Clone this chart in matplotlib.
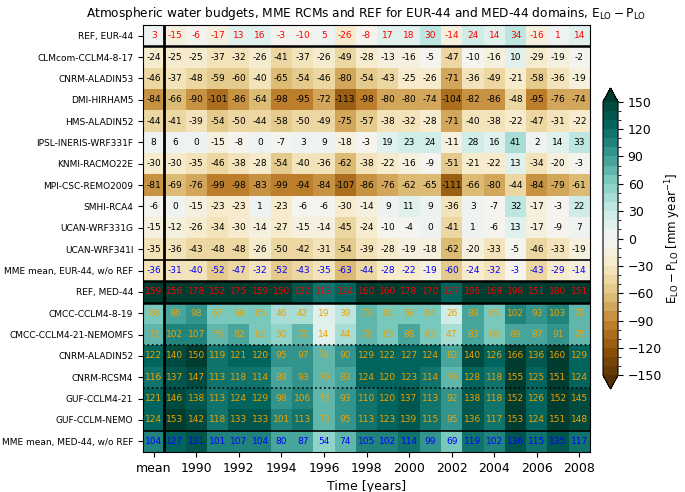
import numpy as np
import matplotlib
matplotlib.use('Agg')
import matplotlib.pyplot as plt
from matplotlib.colors import BoundaryNorm

# columns: mean + 1989..2008
years = list(range(1989, 2009))
col_labels = ['mean'] + [str(y) for y in years]

row_names = [
    'REF, EUR-44', 'CLMcom-CCLM4-8-17', 'CNRM-ALADIN53', 'DMI-HIRHAM5',
    'HMS-ALADIN52', 'IPSL-INERIS-WRF331F', 'KNMI-RACMO22E', 'MPI-CSC-REMO2009',
    'SMHI-RCA4', 'UCAN-WRF331G', 'UCAN-WRF341I', 'MME mean, EUR-44, w/o REF',
    'REF, MED-44', 'CMCC-CCLM4-8-19', 'CMCC-CCLM4-21-NEMOMFS', 'CNRM-ALADIN52',
    'CNRM-RCSM4', 'GUF-CCLM4-21', 'GUF-CCLM-NEMO', 'MME mean, MED-44, w/o REF',
]

# first value = mean, then one value per year
ref_eur = [3, -15, -6, -17, 13, 16, -3, -10, 5, -26, -8, 17, 18, 30, -14, 24, 14, 34, -16, 1, 14]
clmcom = [-24, -25, -25, -37, -32, -26, -41, -37, -26, -49, -28, -13, -16, -5, -47, -10, -16, 10, -29, -19, -2]
cnrm53 = [-46, -37, -48, -59, -60, -40, -65, -54, -46, -80, -54, -43, -25, -26, -71, -36, -49, -21, -58, -36, -19]
dmi = [-84, -66, -90, -101, -86, -64, -98, -95, -72, -113, -98, -80, -80, -74, -104, -82, -86, -48, -95, -76, -74]
hms = [-44, -41, -39, -54, -50, -44, -58, -50, -49, -75, -57, -38, -32, -28, -71, -40, -38, -22, -47, -31, -22]
ipsl = [8, 6, 0, -15, -8, 0, -7, 3, 9, -18, -3, 19, 23, 24, -11, 28, 16, 41, 2, 14, 33]
knmi = [-30, -30, -35, -46, -38, -28, -54, -40, -36, -62, -38, -22, -16, -9, -51, -21, -22, 13, -34, -20, -3]
mpi = [-81, -69, -76, -99, -98, -83, -99, -94, -84, -107, -86, -76, -62, -65, -111, -66, -80, -44, -84, -79, -61]
smhi = [-6, 0, -15, -23, -23, 1, -23, -6, -6, -30, -14, 9, 11, 9, -36, 3, -7, 32, -17, -3, 22]
ucan331 = [-15, -12, -26, -34, -30, -14, -27, -15, -14, -45, -24, -10, -4, 0, -41, 1, -6, 13, -17, -9, 7]
ucan341 = [-35, -36, -43, -48, -48, -26, -50, -42, -31, -54, -39, -28, -19, -18, -62, -20, -33, -5, -46, -33, -19]
mme_eur = [-36, -31, -40, -52, -47, -32, -52, -43, -35, -63, -44, -28, -22, -19, -60, -24, -32, -3, -43, -29, -14]
ref_med = [159, 156, 178, 152, 175, 159, 150, 132, 113, 124, 160, 160, 178, 170, 127, 196, 168, 198, 151, 180, 151]
cmcc819 = [68, 86, 98, 67, 64, 65, 46, 42, 19, 39, 73, 62, 69, 64, 26, 89, 65, 102, 93, 103, 79]
cmcc_nemo = [72, 102, 107, 75, 82, 62, 50, 70, 14, 44, 79, 65, 88, 63, 47, 83, 68, 89, 87, 91, 78]
cnrm52 = [122, 140, 150, 119, 121, 120, 95, 97, 74, 90, 129, 122, 127, 124, 82, 140, 126, 166, 136, 160, 129]
cnrm_rcsm = [116, 137, 147, 113, 118, 114, 89, 93, 70, 83, 124, 120, 123, 114, 76, 128, 118, 155, 125, 151, 124]
guf_cclm = [121, 146, 138, 113, 124, 129, 98, 106, 73, 93, 110, 120, 137, 113, 92, 138, 118, 152, 126, 152, 145]
guf_nemo = [124, 153, 142, 118, 133, 133, 101, 113, 73, 95, 113, 123, 139, 115, 95, 136, 117, 153, 124, 151, 148]
mme_med = [104, 127, 131, 101, 107, 104, 80, 87, 54, 74, 105, 102, 114, 99, 69, 119, 102, 136, 115, 135, 117]

rows = [ref_eur, clmcom, cnrm53, dmi, hms, ipsl, knmi, mpi, smhi, ucan331, ucan341,
        mme_eur, ref_med, cmcc819, cmcc_nemo, cnrm52, cnrm_rcsm, guf_cclm, guf_nemo, mme_med]
data = np.array(rows, dtype=float)

# text colour per row
txt_colors = ['red'] + ['black'] * 10 + ['blue', 'red'] + ['#f0a000'] * 6 + ['blue']

levels = np.arange(-150, 151, 10)
cmap = plt.get_cmap('BrBG', len(levels) + 1)
norm = BoundaryNorm(levels, ncolors=cmap.N, extend='both')

fig = plt.figure(figsize=(6.85, 4.92), dpi=100)
ax = fig.add_axes([0.2088, 0.0813, 0.6525, 0.8679])
nrow, ncol = data.shape
im = ax.pcolormesh(np.arange(ncol + 1), np.arange(nrow + 1), data, cmap=cmap, norm=norm)
ax.set_xlim(0, ncol)
ax.set_ylim(nrow, 0)

for i in range(nrow):
    for j in range(ncol):
        ax.text(j + 0.5, i + 0.5, f'{int(data[i, j])}', ha='center', va='center',
                fontsize=6.5, color=txt_colors[i])

# separators
ax.axvline(1, color='black', linewidth=2)
for y, lw, ls in [(1, 1.8, '-'), (11, 1.2, '-'), (12, 1.8, '-'), (13, 1.8, '-'),
                  (15, 1.2, ':'), (17, 1.2, ':'), (19, 1.2, '-')]:
    ax.axhline(y, color='black', linewidth=lw, linestyle=ls)

ax.set_yticks(np.arange(nrow) + 0.5)
ax.set_yticklabels(row_names, fontsize=6.5)
xt = [0] + [years.index(y) + 1 for y in range(1990, 2009, 2)]
ax.set_xticks(np.array(xt) + 0.5)
ax.set_xticklabels([col_labels[k] for k in xt], fontsize=9)
ax.set_xlabel('Time [years]', fontsize=9)
ax.set_title(r'Atmospheric water budgets, MME RCMs and REF for EUR-44 and MED-44 domains, $\mathrm{E_{LO}-P_{LO}}$',
             fontsize=8.7)

cax = fig.add_axes([0.8803, 0.2093, 0.0219, 0.6118])
cb = fig.colorbar(im, cax=cax, extend='both', ticks=np.arange(-150, 151, 30))
cb.ax.tick_params(labelsize=9)
cb.set_label(r'$\mathrm{E_{LO}-P_{LO}}$ [mm year$^{-1}$]', fontsize=8.5, labelpad=1)

fig.savefig('out.png', dpi=100)
